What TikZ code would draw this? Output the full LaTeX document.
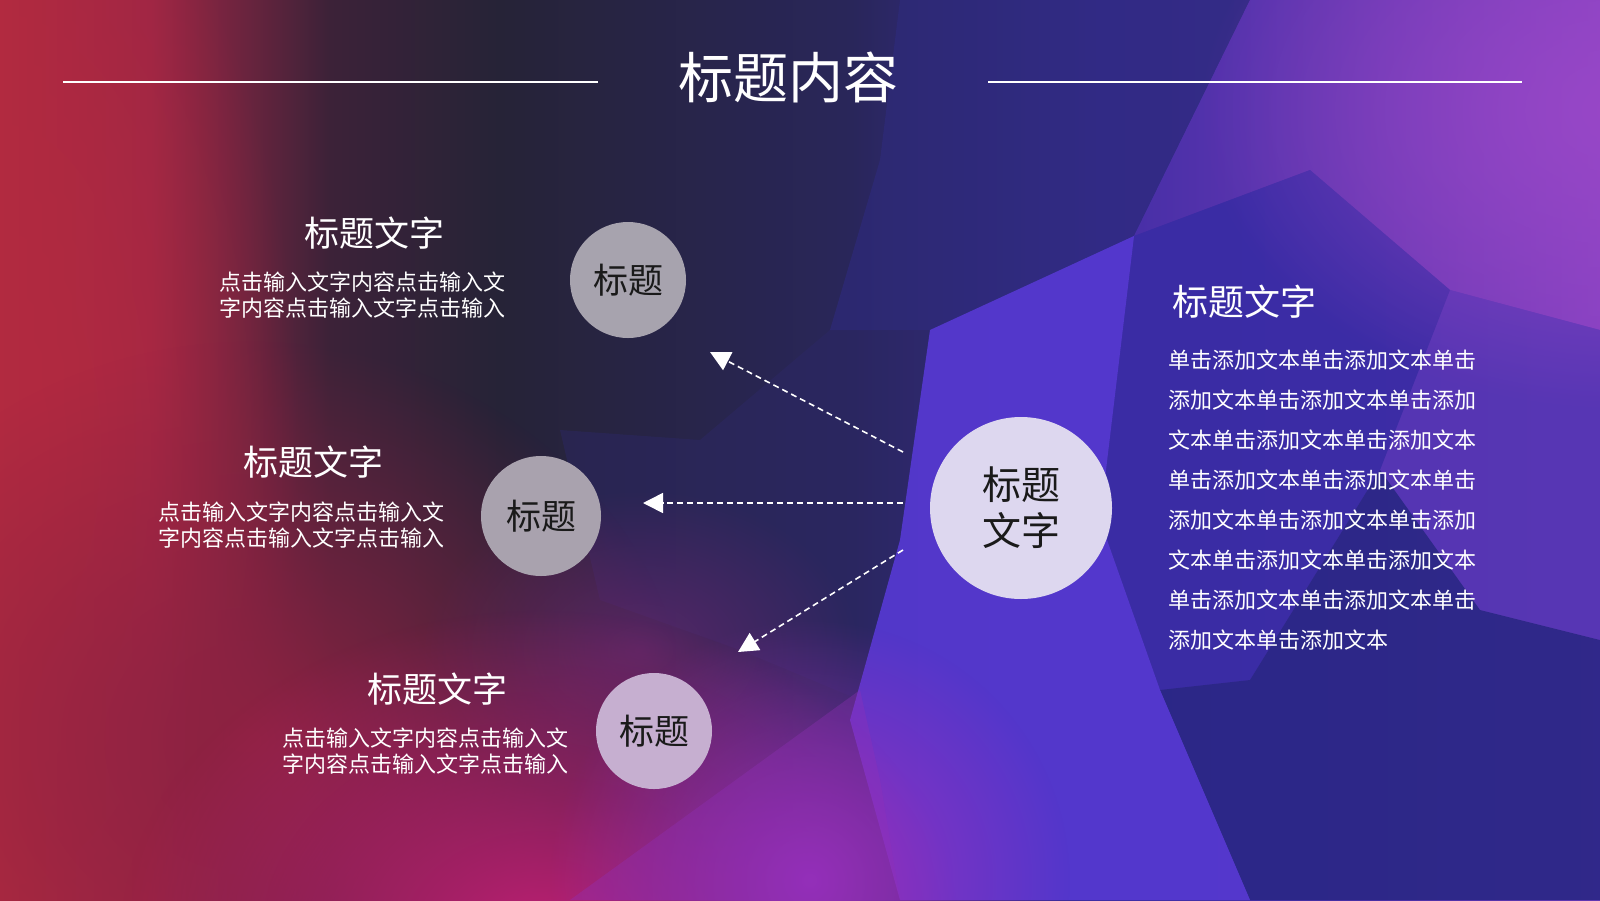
\documentclass[tikz,border=0pt]{standalone}
\usepackage{fontspec}
\newfontfamily\cjk{Noto Sans CJK SC}
\usetikzlibrary{arrows.meta,fadings}
\definecolor{cRed}{HTML}{B22A40}
\definecolor{cRed2}{HTML}{9E2645}
\definecolor{cMar}{HTML}{3C2238}
\definecolor{cNavy}{HTML}{262337}
\definecolor{cNavy2}{HTML}{29265A}
\definecolor{cBlueA}{HTML}{3A2CA0}
\definecolor{cBlueB}{HTML}{4A30A8}
\definecolor{cPurEnd}{HTML}{6A3AB8}
\definecolor{cMaroon}{HTML}{8E2242}
\definecolor{cMag}{HTML}{C01F74}
\definecolor{cPurMag}{HTML}{9A30C0}
\definecolor{cPlum}{HTML}{6A2870}
\definecolor{cPink}{HTML}{9A48C8}
\definecolor{cFacet}{HTML}{9030B8}
\definecolor{cDB}{HTML}{2D2868}
\definecolor{cTopB}{HTML}{2E2A7A}
\definecolor{cPurL}{HTML}{4A30A8}
\definecolor{cPurR}{HTML}{8A42C2}
\definecolor{cRM}{HTML}{5636B4}
\definecolor{cMidP}{HTML}{3A2CA5}
\definecolor{cBright}{HTML}{5538CF}
\definecolor{cRB}{HTML}{2A2785}
\definecolor{cCircA}{HTML}{A7A3AE}
\definecolor{cCircB}{HTML}{A9A2AE}
\definecolor{cCircC}{HTML}{C6AFD0}
\definecolor{cCircBig}{HTML}{DDD7EF}
\definecolor{cInk}{HTML}{1A1A1A}
\pgfdeclarehorizontalshading{bgH}{100bp}{color(0bp)=(cRed); color(25bp)=(cRed); color(29.7bp)=(cRed2); color(35.3bp)=(cMar); color(40.6bp)=(cNavy); color(51.6bp)=(cNavy2); color(59.4bp)=(cBlueA); color(67.2bp)=(cBlueB); color(75bp)=(cPurEnd); color(100bp)=(cPurEnd)}
\tikzfading[name=softblob, inner color=transparent!0, outer color=transparent!100]
\begin{document}
\begin{tikzpicture}[x=1pt,y=-1pt,
  wtxt/.style={text=white, inner sep=0pt, outer sep=0pt},
  headtxt/.style={wtxt, font=\cjk\fontsize{35}{40}\selectfont},
  bodytxt/.style={wtxt, align=center, font=\cjk\fontsize{22}{26}\selectfont},
  smallcirc/.style={circle, minimum size=116pt, inner sep=0pt, text=cInk, font=\cjk\fontsize{35}{40}\selectfont},
  bigcirc/.style={circle, minimum size=182pt, inner sep=0pt, fill=cCircBig, text=cInk, align=center, font=\cjk\fontsize{39}{46}\selectfont},
  rule/.style={white, line width=2pt},
  flow/.style={white, line width=1.6pt, dash pattern=on 6pt off 4pt, -{Triangle[length=20pt,width=20pt]}},
  blob/.style={fill=#1, path fading=softblob}
]
\useasboundingbox (0,0) rectangle (1600,900);
% ---------- background ----------
\begin{scope}
\clip (0,0) rectangle (1600,900);
\shade[shading=bgH] (0,0) rectangle (1600,900);
% right-side facets
\fill[cTopB, fill opacity=0.7] (900,0) -- (1250,0) -- (1134,236) -- (930,330) -- (830,330) -- (880,160) -- cycle;
\shade[left color=cPurL, right color=cPurR, fill opacity=0.9] (1250,0) -- (1600,0) -- (1600,330) -- (1450,290) -- (1310,170) -- (1134,236) -- cycle;
\fill[cRM, fill opacity=0.9] (1450,290) -- (1600,330) -- (1600,640) -- (1480,610) -- (1380,470) -- cycle;
\fill[cMidP, fill opacity=0.9] (1134,236) -- (1310,170) -- (1450,290) -- (1380,470) -- (1250,680) -- (1160,690) -- (1100,520) -- cycle;
\fill[cRB, fill opacity=0.9] (1380,470) -- (1480,610) -- (1600,640) -- (1600,900) -- (1250,900) -- (1160,690) -- (1250,680) -- cycle;
\fill[cDB, fill opacity=0.45] (560,430) -- (700,440) -- (830,330) -- (930,330) -- (900,540) -- (860,700) -- (740,650) -- (600,600) -- cycle;
\fill[cBright, fill opacity=0.95] (1134,236) -- (930,330) -- (900,540) -- (850,720) -- (900,900) -- (1250,900) -- (1160,690) -- (1100,520) -- cycle;
% soft colour blobs
\fill[blob=cRed] (0,450) ellipse [x radius=300, y radius=650];
\fill[blob=cMaroon] (250,740) ellipse [x radius=440, y radius=400];
\fill[blob=cPlum, fill opacity=0.7] (640,650) ellipse [x radius=220, y radius=160];
\fill[blob=cMag] (540,940) ellipse [x radius=420, y radius=330];
\fill[blob=cPurMag, fill opacity=0.95] (810,880) ellipse [x radius=260, y radius=260];
\fill[cFacet, fill opacity=0.35] (570,900) -- (860,690) -- (880,780) -- (900,900) -- cycle;
\fill[blob=cPink, fill opacity=0.9] (1620,110) ellipse [x radius=420, y radius=300];
\end{scope}
% ---------- title ----------
\node[wtxt, font=\cjk\fontsize{55}{60}\selectfont] (title) at (788,77) {标题内容};
\coordinate (la) at (63,82);
\coordinate (lb) at (598,82);
\coordinate (ra) at (988,82);
\coordinate (rb) at (1522,82);
\draw[rule] (la) -- (lb);
\draw[rule] (ra) -- (rb);
% ---------- circles ----------
\node[smallcirc, fill=cCircA] (c1) at (628,280) {标题};
\node[smallcirc, fill=cCircB, minimum size=120pt] (c2) at (541,516) {标题};
\node[smallcirc, fill=cCircC] (c3) at (654,731) {标题};
\node[bigcirc] (big) at (1021,508) {标题\\文字};
% ---------- left texts ----------
\node[headtxt] (h1) at (374,233) {标题文字};
\node[bodytxt] (b1) at (362,295) {点击输入文字内容点击输入文\\字内容点击输入文字点击输入};
\node[headtxt] (h2) at (313,462) {标题文字};
\node[bodytxt] (b2) at (301,525.5) {点击输入文字内容点击输入文\\字内容点击输入文字点击输入};
\node[headtxt] (h3) at (437,689) {标题文字};
\node[bodytxt] (b3) at (425,751.5) {点击输入文字内容点击输入文\\字内容点击输入文字点击输入};
% ---------- right texts ----------
\node[headtxt, anchor=west, font=\cjk\fontsize{36}{40}\selectfont] (h4) at (1172,302) {标题文字};
\node[wtxt, anchor=west, align=left, font=\cjk\fontsize{22}{40}\selectfont] (b4) at (1168,500.5) {单击添加文本单击添加文本单击\\添加文本单击添加文本单击添加\\文本单击添加文本单击添加文本\\单击添加文本单击添加文本单击\\添加文本单击添加文本单击添加\\文本单击添加文本单击添加文本\\单击添加文本单击添加文本单击\\添加文本单击添加文本};
% ---------- connectors ----------
\coordinate (s1) at (903,452);
\coordinate (t1) at (710,352);
\coordinate (s2) at (903,503);
\coordinate (t2) at (643,503);
\coordinate (s3) at (903,550);
\coordinate (t3) at (738,652);
\draw[flow] (s1) -- (t1);
\draw[flow] (s2) -- (t2);
\draw[flow] (s3) -- (t3);
\end{tikzpicture}
\end{document}
